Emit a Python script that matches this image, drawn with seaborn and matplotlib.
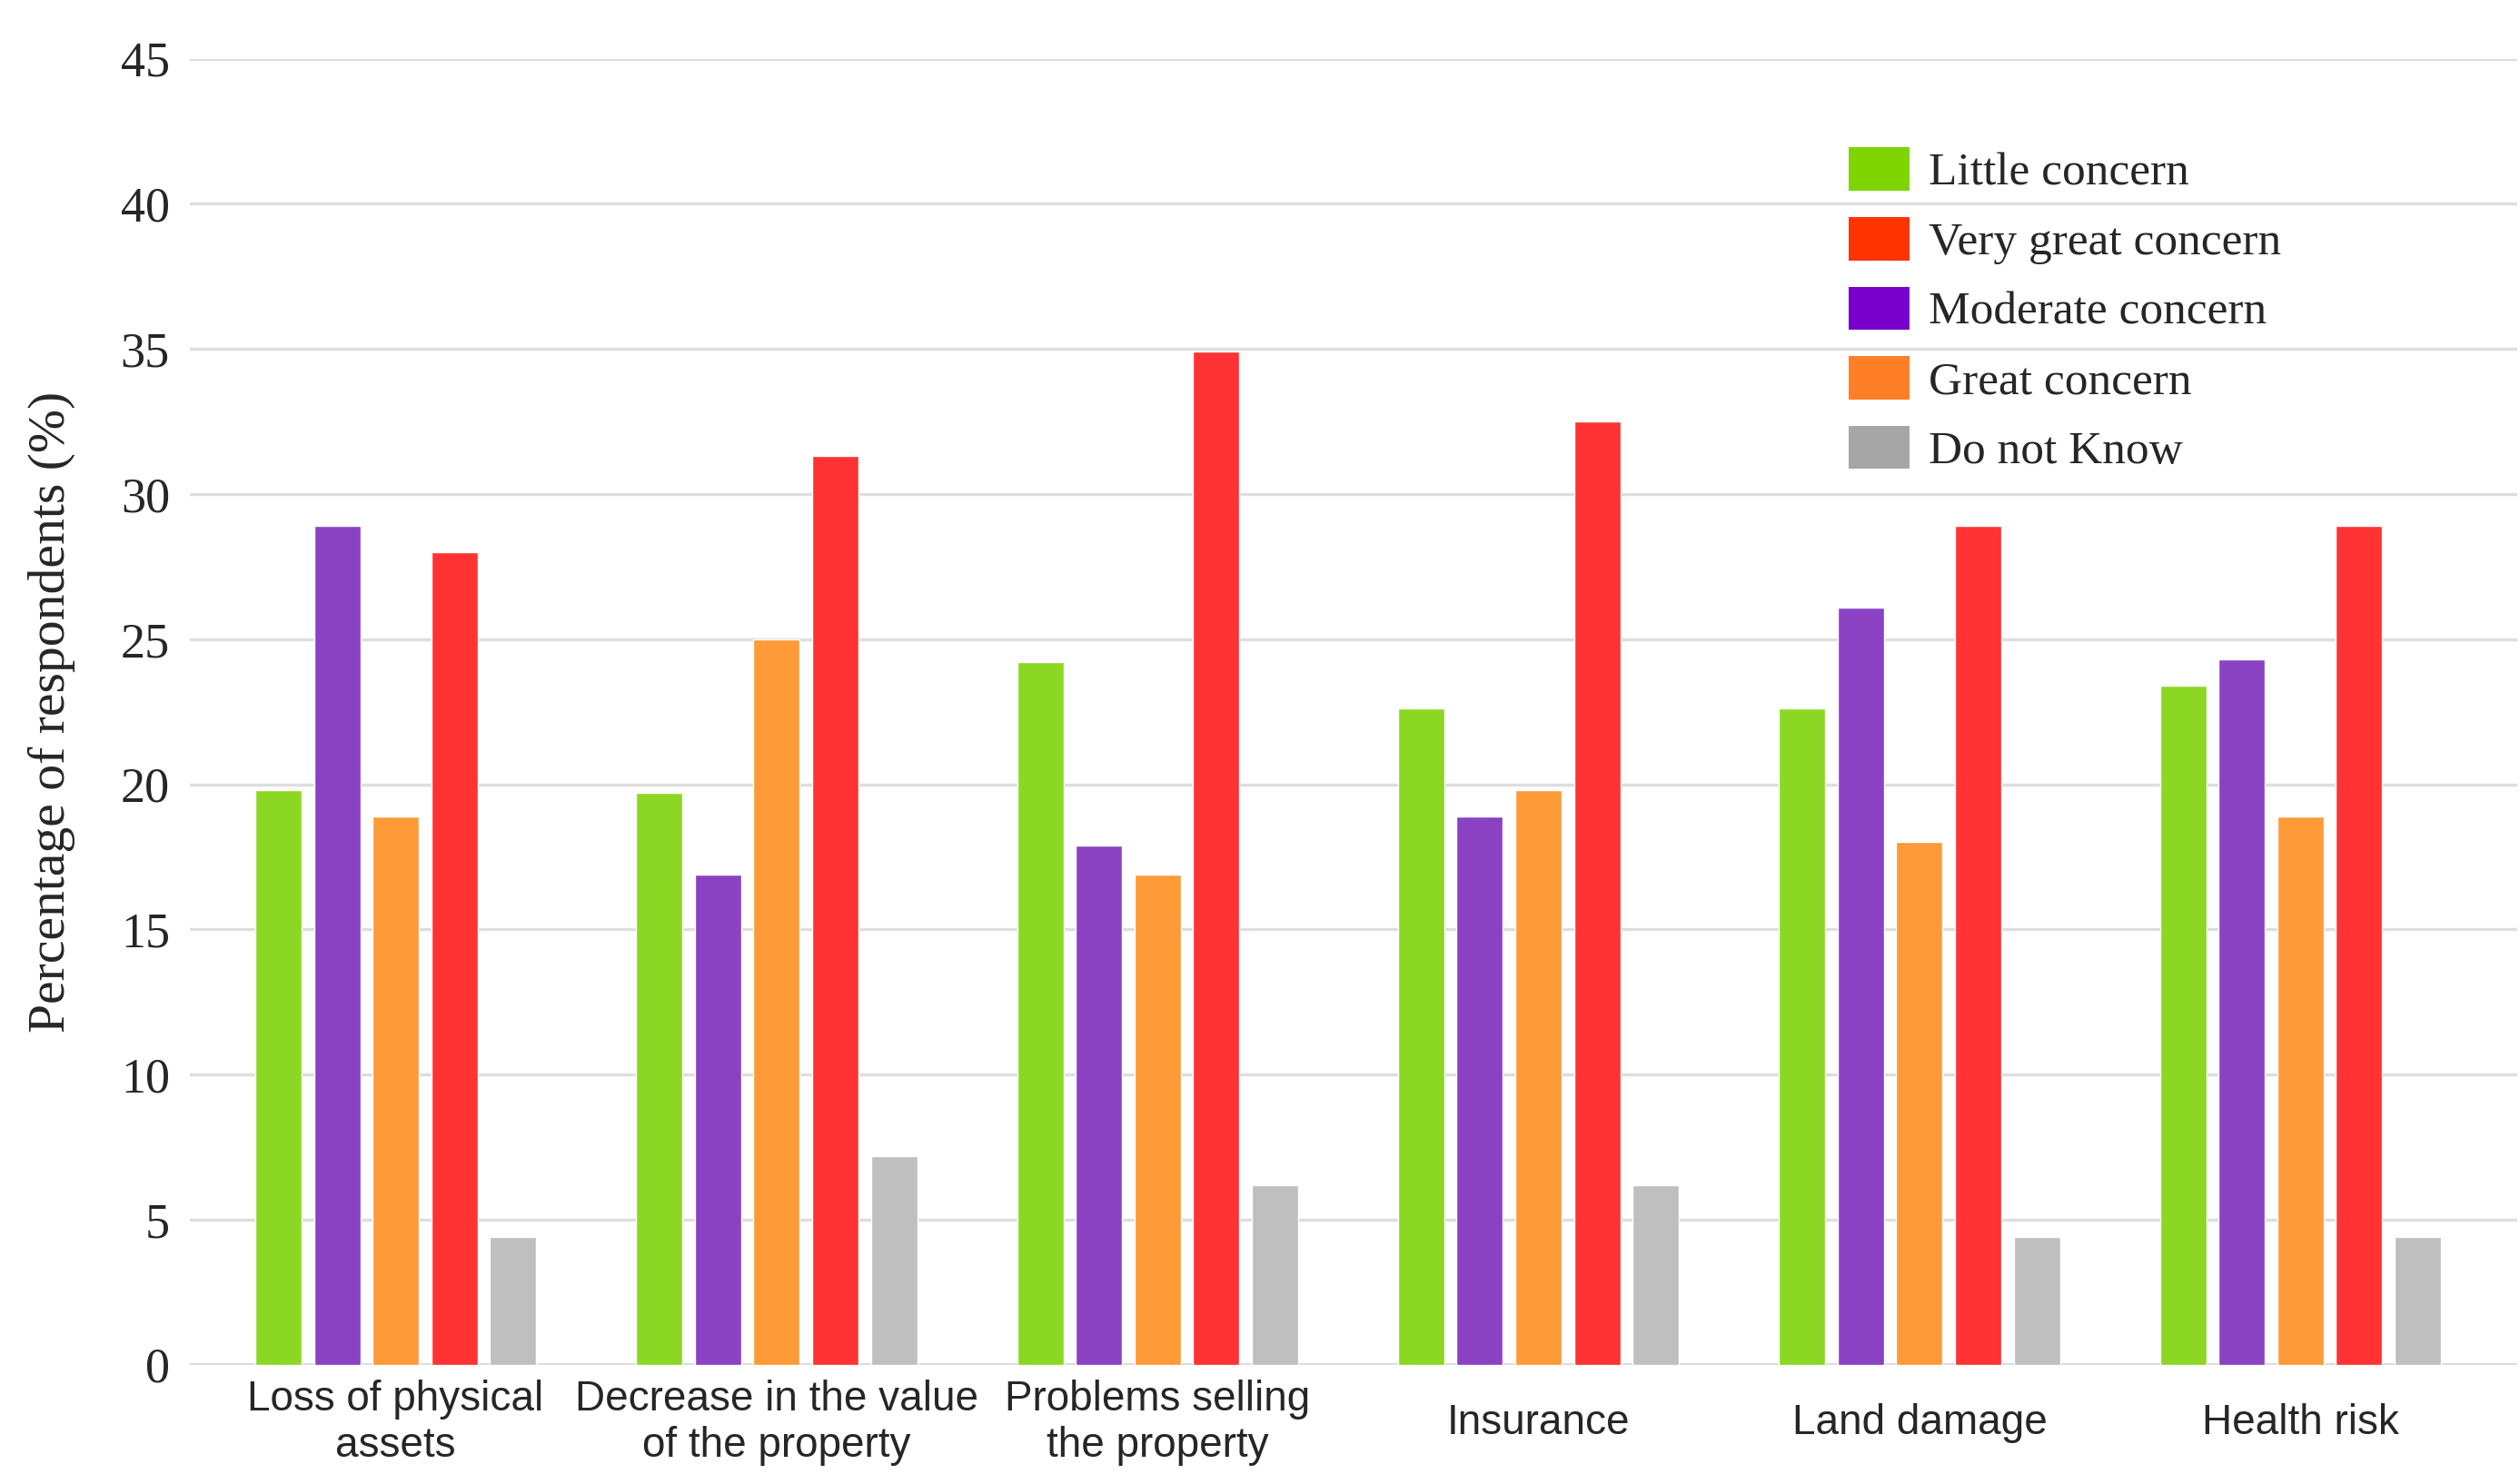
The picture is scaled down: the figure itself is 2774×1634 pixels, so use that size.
import matplotlib
matplotlib.use("Agg")
import matplotlib.pyplot as plt
from matplotlib.patches import Patch
import seaborn as sns
import pandas as pd

categories = ["Loss of physical\nassets", "Decrease in the value\nof the property",
              "Problems selling\nthe property", "Insurance", "Land damage", "Health risk"]
series_names = ["Little concern", "Moderate concern", "Great concern",
                "Very great concern", "Do not Know"]
little = [19.8, 19.7, 24.2, 22.6, 22.6, 23.4]
moderate = [28.9, 16.9, 17.9, 18.9, 26.1, 24.3]
great = [18.9, 25.0, 16.9, 19.8, 18.0, 18.9]
very_great = [28.0, 31.3, 34.9, 32.5, 28.9, 28.9]
do_not_know = [4.4, 7.2, 6.2, 6.2, 4.4, 4.4]
y_ticks = [0, 5, 10, 15, 20, 25, 30, 35, 40, 45]
legend_order = ["Little concern", "Very great concern", "Moderate concern",
                "Great concern", "Do not Know"]

bar_colors = {"Little concern": "#8CD723", "Moderate concern": "#8B42C2",
              "Great concern": "#FF9A38", "Very great concern": "#FF3333",
              "Do not Know": "#BFBFBF"}
legend_colors = {"Little concern": "#7ED400", "Very great concern": "#FF3300",
                 "Moderate concern": "#7700CC", "Great concern": "#FF7F27",
                 "Do not Know": "#A6A6A6"}

values = [little, moderate, great, very_great, do_not_know]
rows = []
for name, vals in zip(series_names, values):
    for cat, v in zip(categories, vals):
        rows.append({"category": cat, "series": name, "value": v})
df = pd.DataFrame(rows)

sns.set_theme(style="white")
fig = plt.figure(figsize=(27.74, 16.34), dpi=100)
ax = fig.add_axes([0.0754, 0.0804, 0.9236, 0.880])

sns.barplot(data=df, x="category", y="value", hue="series", order=categories,
            hue_order=series_names, palette=bar_colors, width=0.77, gap=0.21,
            saturation=1, ax=ax, legend=False, errorbar=None)

ax.set_xlim(-0.54, 5.57)
ax.set_ylim(0, 45)
ax.set_yticks(y_ticks)
ax.set_yticklabels([str(t) for t in y_ticks], fontsize=39, family="Liberation Serif")
ax.yaxis.grid(True, color="#DEDEDE", linewidth=2.5)
ax.set_axisbelow(True)
for s in ax.spines.values():
    s.set_visible(False)
ax.axhline(0, color="#D4D4D4", linewidth=3.5, zorder=0.5)
ax.tick_params(axis="y", length=0, pad=16)
ax.tick_params(axis="x", length=0, pad=46)
for lab in ax.get_xticklabels():
    lab.set_fontsize(33)
    lab.set_family("Liberation Sans")
    lab.set_verticalalignment("center")
    lab.set_linespacing(1.22)
ax.set_xlabel("")
ax.set_ylabel("Percentage of respondents (%)", fontsize=41.5,
              family="Liberation Serif", labelpad=36)

handles = [Patch(facecolor=legend_colors[n], edgecolor="none", label=n) for n in legend_order]
ax.legend(handles=handles, loc="upper left", bbox_to_anchor=(0.7127, 0.932),
          frameon=False, prop={"family": "Liberation Serif", "size": 37},
          handlelength=1.3, handleheight=1.05, handletextpad=0.4,
          labelspacing=0.47, borderpad=0, borderaxespad=0)

fig.savefig("out.png", dpi=100, facecolor="white")
